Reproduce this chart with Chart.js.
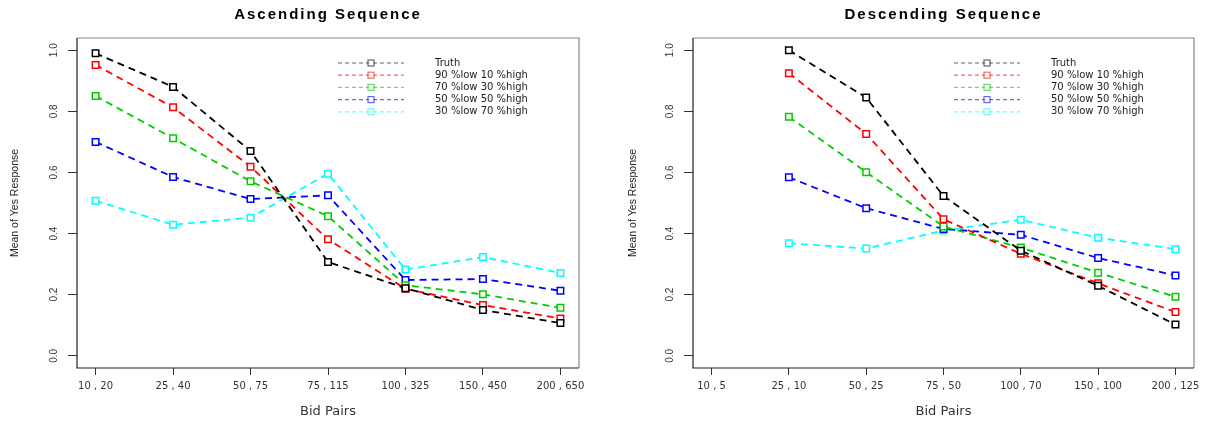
<!DOCTYPE html>
<html>
<head>
<meta charset="utf-8">
<script src="https://cdn.jsdelivr.net/npm/chart.js@4.4.1/dist/chart.umd.min.js"></script>
<style>
  html, body { margin: 0; padding: 0; background: #fff; }
  #wrap { position: relative; width: 1207px; height: 423px; }
  .panel { position: absolute; top: 0; height: 423px; }
</style>
</head>
<body>
<div id="wrap">
  <div class="panel" style="left:0;width:603px"><canvas id="ascChart"></canvas></div>
  <div class="panel" style="left:603px;width:604px"><canvas id="descChart"></canvas></div>
</div>
<script>
// =============== DATA ===============
const seriesLabels = ['Truth', '90 %low 10 %high', '70 %low 30 %high', '50 %low 50 %high', '30 %low 70 %high'];
const seriesColors = ['#000000', '#ff0000', '#00cd00', '#0000ff', '#00ffff'];
const yTicks = [0, 0.2, 0.4, 0.6, 0.8, 1.0];

// Ascending sequence
const ascCategories = ['10 , 20', '25 , 40', '50 , 75', '75 , 115', '100 , 325', '150 , 450', '200 , 650'];
const ascTruth = [0.99, 0.88, 0.67, 0.307, 0.221, 0.15, 0.107];
const ascLow90 = [0.952, 0.813, 0.619, 0.381, 0.219, 0.166, 0.122];
const ascLow70 = [0.85, 0.712, 0.571, 0.457, 0.231, 0.201, 0.157];
const ascLow50 = [0.70, 0.585, 0.513, 0.525, 0.248, 0.251, 0.213];
const ascLow30 = [0.507, 0.429, 0.452, 0.596, 0.282, 0.323, 0.271];

// Descending sequence (nothing plotted at 10 , 5)
const descCategories = ['10 , 5', '25 , 10', '50 , 25', '75 , 50', '100 , 70', '150 , 100', '200 , 125'];
const descTruth = [null, 1.0, 0.845, 0.523, 0.344, 0.229, 0.102];
const descLow90 = [null, 0.925, 0.726, 0.447, 0.334, 0.237, 0.143];
const descLow70 = [null, 0.782, 0.601, 0.423, 0.354, 0.272, 0.193];
const descLow50 = [null, 0.584, 0.483, 0.415, 0.396, 0.320, 0.263];
const descLow30 = [null, 0.368, 0.351, 0.410, 0.445, 0.386, 0.349];

// =============== PLUGIN: box, title, legend (R style) ===============
const rStylePlugin = {
  id: 'rStyle',
  afterDatasetsDraw(chart) {
    const { ctx, chartArea: a } = chart;
    ctx.save();
    // plot box
    ctx.setLineDash([]);
    ctx.lineWidth = 1.2;
    ctx.strokeStyle = '#888';
    ctx.beginPath();
    ctx.moveTo(a.left, a.top); ctx.lineTo(a.right, a.top); ctx.lineTo(a.right, a.bottom);
    ctx.stroke();
    ctx.strokeStyle = '#222';
    ctx.beginPath();
    ctx.moveTo(a.left, a.top); ctx.lineTo(a.left, a.bottom); ctx.lineTo(a.right, a.bottom);
    ctx.stroke();

    // legend inside the plot (line + square sample, no frame)
    const sets = chart.data.datasets;
    ctx.font = '10px "DejaVu Sans"';
    ctx.textBaseline = 'middle';
    ctx.textAlign = 'left';
    sets.forEach((ds, i) => {
      const y = a.top + 25 + i * 12.2;
      const x0 = a.left + 261, x1 = a.left + 327, xm = (x0 + x1) / 2;
      ctx.globalAlpha = 0.6;
      ctx.strokeStyle = ds.borderColor;
      ctx.lineWidth = 1.2;
      ctx.setLineDash([4, 3]);
      ctx.beginPath(); ctx.moveTo(x0, y); ctx.lineTo(x1, y); ctx.stroke();
      ctx.setLineDash([]);
      ctx.fillStyle = '#fff';
      ctx.fillRect(xm - 3, y - 3, 6, 6);
      ctx.strokeRect(xm - 3, y - 3, 6, 6);
      ctx.globalAlpha = 1;
      ctx.fillStyle = '#222';
      ctx.fillText(ds.label, a.left + 358, y);
    });

    // main title
    ctx.font = 'bold 15px "Liberation Sans"';
    ctx.letterSpacing = '2px';
    ctx.fillStyle = '#000';
    ctx.textAlign = 'center';
    ctx.fillText(chart.options.plugins.rStyle.title, (a.left + a.right) / 2, 15);
    ctx.restore();
  }
};

function buildDatasets(lists) {
  return lists.map((values, i) => ({
    label: seriesLabels[i],
    data: values.map((v, k) => ({ x: k + 1, y: v })),
    borderColor: seriesColors[i],
    borderWidth: 1.8,
    borderDash: [7, 5],
    pointStyle: 'rect',
    pointRadius: 4.6,
    pointBorderWidth: 1.5,
    pointBackgroundColor: '#ffffff',
    pointBorderColor: seriesColors[i],
    tension: 0,
    fill: false
  }));
}

function createPanel(canvasId, title, categories, lists, frame) {
  const ctx = document.getElementById(canvasId).getContext('2d');
  return new Chart(ctx, {
    type: 'line',
    data: { datasets: buildDatasets(lists) },
    options: {
      responsive: true,
      maintainAspectRatio: false,
      animation: false,
      layout: { padding: { top: 38, right: frame.right, left: 0, bottom: 0 } },
      plugins: {
        legend: { display: false },
        tooltip: { enabled: false },
        rStyle: { title: title }
      },
      scales: {
        x: {
          type: 'linear',
          min: 0.76,
          max: categories.length + 0.24,
          afterBuildTicks: s => { s.ticks = categories.map((_, i) => ({ value: i + 1 })); },
          afterFit: s => { s.height = 55; },
          border: { display: false },
          grid: { drawOnChartArea: false, drawTicks: true, tickLength: 7, color: '#333' },
          ticks: {
            autoSkip: false, maxRotation: 0, minRotation: 0, padding: 5,
            callback: v => categories[Math.round(v) - 1],
            color: '#333',
            font: { family: '"DejaVu Sans"', size: 10 }
          },
          title: {
            display: true, text: 'Bid Pairs', color: '#333',
            font: { family: '"DejaVu Sans"', size: 13 },
            padding: { top: 0, bottom: 4 }
          }
        },
        y: {
          min: -0.04,
          max: 1.04,
          afterBuildTicks: s => { s.ticks = yTicks.map(v => ({ value: v })); },
          afterFit: s => { s.width = frame.left; },
          border: { display: false },
          grid: { drawOnChartArea: false, drawTicks: true, tickLength: 9, color: '#333' },
          ticks: {
            minRotation: 90, maxRotation: 90, crossAlign: 'center', padding: 7,
            callback: v => v.toFixed(1),
            color: '#333',
            font: { family: '"Liberation Sans"', size: 10 }
          },
          title: {
            display: true, text: 'Mean of Yes Response', color: '#222',
            font: { family: '"Liberation Sans"', size: 10.5 },
            padding: { top: frame.yTitle, bottom: 0 }
          }
        }
      }
    },
    plugins: [rStylePlugin]
  });
}

createPanel('ascChart', 'Ascending Sequence', ascCategories,
  [ascTruth, ascLow90, ascLow70, ascLow50, ascLow30], { left: 77, right: 24, yTitle: 9 });
createPanel('descChart', 'Descending Sequence', descCategories,
  [descTruth, descLow90, descLow70, descLow50, descLow30], { left: 90, right: 13, yTitle: 24 });
</script>
</body>
</html>
